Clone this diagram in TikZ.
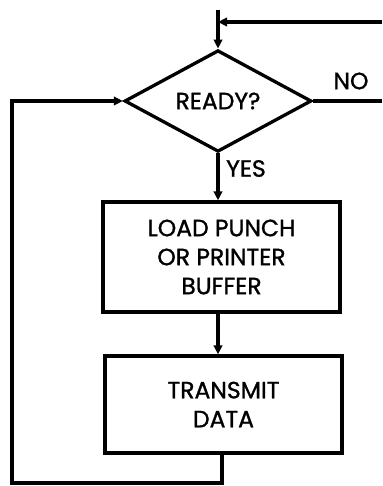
\documentclass[tikz,border=0pt]{standalone}
\usepackage{fontspec}
\setmainfont{Poppins}[FakeBold=1.2]
\usetikzlibrary{shapes.geometric,arrows.meta}
\newcommand{\txtfont}{\fontsize{23.5}{29}\selectfont}
\tikzset{
  ln/.style={line width=3.3pt},
  arr/.style={ln,-{Triangle[length=9pt,width=8.5pt]}},
  lbl/.style={font=\txtfont, inner sep=0pt},
  dec/.style={ln, draw, shape=diamond, minimum width=187pt, minimum height=92pt, inner sep=0pt, font=\txtfont},
  boxx/.style={ln, draw, rectangle, minimum width=237pt, inner sep=0pt, align=center, font=\txtfont},
}
\begin{document}
\begin{tikzpicture}[x=1pt,y=-1pt]
\useasboundingbox (0,0) rectangle (382,486);
\node[dec] (d) at (218,101) {READY?};
\node[boxx, minimum height=110pt] (b1) at (221.5,257) {LOAD PUNCH\\OR PRINTER\\BUFFER};
\node[boxx, minimum height=97pt] (b2) at (223.5,404.5) {TRANSMIT\\DATA};
\node[lbl] (no) at (351,81) {NO};
\node[lbl, anchor=west] (yes) at (226,168.5) {YES};
\coordinate (topin) at (218,10);
\coordinate (rin) at (382,22);
\coordinate (nout) at (382,101);
\coordinate (bl) at (12,483);
\draw[arr] (topin) -- (d.north);
\draw[arr] (rin) -- (topin |- rin);
\draw[ln] (d.east) -- (nout);
\draw[arr] (d.south) -- (d.south |- b1.north);
\draw[arr] (b1.south -| d.south) -- (d.south |- b2.north);
\draw[arr] (b2.south -| 222,0) |- (bl) |- (d.west);
\end{tikzpicture}
\end{document}
